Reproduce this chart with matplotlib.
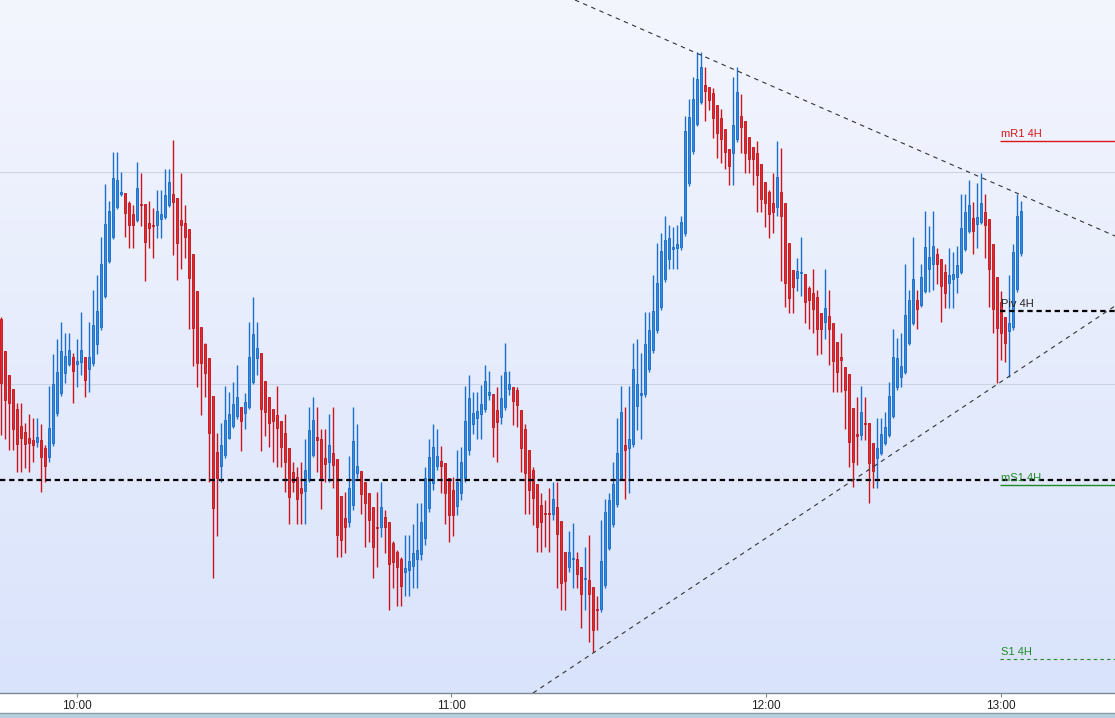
import numpy as np
import matplotlib.pyplot as plt
from matplotlib.colors import LinearSegmentedColormap
from matplotlib.lines import Line2D
from matplotlib.patches import Rectangle

plt.rcParams['font.family'] = ['Liberation Sans', 'DejaVu Sans']

# prices are kept as points below a reference quote (1 point = 0.00001)
REF = 1.10000
PT = 0.00001

opens_pts = [319, 351, 375, 389, 409, 426, 432, 438, 440, 442, 440, 448, 457, 443, 413, 393, 373, 364, 357, 364,
             362, 357, 369, 363, 344, 327, 296, 261, 237, 207, 194, 193, 203, 214, 220, 204, 204, 223, 225, 225,
             219, 217, 205, 194, 198, 220, 223, 229, 254, 291, 327, 344, 358, 396, 452, 466, 455, 438, 426, 416,
             407, 413, 407, 382, 358, 353, 381, 397, 409, 415, 421, 433, 448, 472, 477, 488, 491, 480, 455, 437,
             439, 458, 462, 453, 459, 496, 518, 522, 505, 473, 471, 482, 493, 507, 527, 527, 517, 522, 543, 552,
             559, 572, 570, 566, 559, 554, 538, 508, 483, 466, 461, 463, 478, 490, 506, 493, 478, 450, 424, 418,
             414, 409, 395, 394, 410, 417, 407, 389, 387, 390, 410, 429, 450, 470, 484, 505, 513, 513, 514, 507,
             521, 552, 567, 559, 559, 567, 579, 580, 587, 609, 609, 585, 548, 524, 504, 478, 445, 448, 444, 406,
             395, 394, 369, 350, 330, 307, 279, 259, 249, 248, 247, 233, 183, 151, 124, 102, 85, 87, 93, 105,
             118, 129, 149, 153, 139, 116, 121, 137, 147, 153, 164, 182, 192, 203, 207, 192, 203, 243, 270, 278,
             273, 274, 288, 293, 297, 313, 322, 316, 323, 342, 357, 367, 374, 408, 434, 435, 423, 423, 443, 458,
             453, 443, 435, 416, 387, 377, 372, 343, 323, 300, 305, 291, 269, 264, 254, 259, 272, 283, 279, 277,
             272, 249, 231, 218, 224, 222, 212, 219, 244, 277, 302, 317, 331, 327, 289, 253]
highs_pts = [317, 351, 375, 389, 403, 403, 423, 414, 418, 418, 424, 445, 386, 354, 339, 322, 333, 333, 353, 339,
             312, 357, 322, 290, 275, 237, 184, 201, 152, 152, 172, 193, 201, 205, 162, 173, 204, 201, 208, 190,
             190, 169, 169, 140, 198, 173, 205, 229, 254, 291, 327, 343, 358, 396, 433, 423, 386, 392, 382, 365,
             407, 393, 322, 297, 322, 353, 381, 397, 409, 386, 421, 414, 448, 462, 467, 462, 439, 407, 397, 407,
             429, 429, 414, 407, 459, 496, 492, 456, 407, 424, 471, 482, 493, 507, 492, 482, 510, 522, 541, 550,
             557, 535, 535, 524, 503, 503, 467, 439, 424, 429, 446, 463, 478, 477, 450, 447, 386, 375, 392, 392,
             385, 365, 371, 394, 387, 375, 343, 371, 387, 387, 410, 424, 450, 467, 484, 493, 500, 488, 482, 482,
             521, 552, 531, 523, 552, 567, 547, 535, 587, 596, 520, 499, 493, 462, 418, 386, 407, 386, 343, 339,
             353, 312, 312, 275, 243, 233, 216, 225, 227, 225, 216, 116, 99, 77, 52, 52, 67, 87, 88, 105,
             109, 129, 149, 77, 67, 94, 121, 137, 147, 141, 164, 182, 190, 173, 141, 148, 203, 243, 270, 258,
             237, 274, 286, 269, 290, 313, 269, 290, 323, 342, 333, 367, 374, 408, 397, 386, 397, 423, 443, 418,
             418, 412, 382, 329, 338, 333, 264, 290, 237, 290, 264, 211, 226, 211, 248, 259, 264, 248, 252, 246,
             194, 194, 180, 202, 183, 173, 194, 219, 244, 277, 291, 317, 275, 244, 194, 201]
lows_pts = [435, 439, 450, 450, 472, 472, 468, 472, 462, 447, 492, 482, 462, 446, 416, 396, 383, 366, 403, 387,
            375, 397, 392, 366, 354, 330, 298, 263, 239, 209, 196, 237, 248, 248, 222, 226, 281, 248, 258, 238,
            238, 219, 207, 255, 280, 269, 258, 329, 366, 387, 415, 397, 482, 578, 536, 482, 458, 439, 428, 419,
            451, 429, 409, 384, 375, 451, 436, 447, 462, 467, 467, 492, 524, 492, 524, 524, 524, 482, 457, 472,
            509, 482, 482, 488, 557, 557, 553, 527, 510, 478, 514, 547, 542, 578, 567, 537, 553, 610, 588, 606,
            606, 596, 596, 588, 588, 560, 545, 512, 490, 470, 493, 524, 542, 536, 515, 500, 482, 455, 434, 439,
            439, 412, 400, 457, 462, 424, 410, 395, 425, 427, 472, 514, 514, 525, 552, 552, 547, 552, 520, 588,
            610, 610, 572, 588, 588, 628, 610, 642, 652, 630, 612, 588, 550, 527, 507, 480, 499, 493, 447, 430,
            439, 397, 372, 353, 333, 310, 282, 269, 269, 269, 250, 236, 186, 154, 126, 104, 121, 110, 138, 158,
            163, 169, 185, 185, 142, 153, 173, 173, 185, 212, 212, 227, 238, 233, 216, 281, 307, 313, 313, 291,
            296, 323, 329, 333, 355, 354, 339, 365, 392, 392, 392, 429, 467, 487, 465, 440, 440, 503, 488, 488,
            455, 445, 437, 418, 390, 387, 374, 345, 325, 329, 307, 293, 292, 290, 284, 322, 308, 308, 308, 293,
            274, 251, 233, 254, 248, 224, 258, 307, 333, 383, 360, 362, 377, 330, 292, 256]
closes_pts = [383, 400, 403, 429, 444, 438, 444, 443, 445, 437, 457, 466, 428, 384, 372, 351, 356, 350, 371, 361,
              350, 380, 357, 325, 311, 264, 224, 211, 178, 180, 192, 213, 225, 225, 188, 205, 242, 228, 226, 211,
              214, 195, 182, 202, 243, 225, 237, 278, 328, 363, 363, 373, 433, 508, 478, 445, 420, 414, 404, 397,
              421, 402, 357, 334, 348, 409, 412, 423, 421, 428, 447, 462, 497, 482, 499, 493, 470, 430, 420, 440,
              478, 464, 445, 465, 535, 540, 527, 488, 441, 466, 494, 503, 520, 547, 528, 507, 527, 564, 562, 567,
              586, 568, 561, 553, 550, 522, 478, 457, 447, 456, 466, 493, 515, 515, 482, 462, 421, 398, 413, 411,
              404, 381, 392, 427, 422, 398, 372, 384, 401, 405, 448, 473, 490, 498, 527, 522, 514, 514, 499, 534,
              583, 581, 552, 558, 574, 594, 578, 594, 630, 610, 561, 512, 500, 484, 453, 412, 450, 439, 369, 384,
              393, 344, 330, 311, 283, 251, 240, 238, 247, 244, 222, 131, 117, 99, 79, 67, 91, 100, 118, 133,
              139, 152, 166, 125, 92, 127, 153, 159, 159, 175, 199, 203, 214, 212, 177, 216, 283, 298, 287, 271,
              272, 302, 300, 309, 329, 329, 308, 329, 361, 372, 360, 390, 442, 462, 436, 412, 424, 463, 471, 448,
              434, 427, 396, 357, 358, 366, 315, 300, 279, 309, 277, 247, 257, 246, 264, 286, 293, 275, 274, 265,
              228, 212, 205, 231, 217, 203, 225, 269, 309, 328, 333, 343, 323, 252, 216, 211]

# time axis labels sit on the first bar of each hour
hour_bars = [19, 112.5, 191.25, 250]
hour_labels = ['10:00', '11:00', '12:00', '13:00']

# 4H pivot levels, drawn from the 13:00 bar onwards
levels = {'mR1 4H': 141, 'Piv 4H': 311, 'mS1 4H': 485, 'S1 4H': 659}
level_start = 249.75
big_level = 480          # the dashed level running across the whole chart
grid_levels = [171.5, 384]

# hand-drawn trendlines (bar, points)
upper_tl = ([143.5, 278.5], [0, 236])
lower_tl = ([133, 278.5], [693, 306])


def to_price(v):
    return REF - np.asarray(v, dtype=float) * PT


o = to_price(opens_pts)
h = to_price(highs_pts)
l = to_price(lows_pts)
c = to_price(closes_pts)
idx = np.arange(len(o))
up = c >= o

x0, x1 = -0.25, 278.5
y0, y1 = to_price(693), to_price(0)

fig = plt.figure(figsize=(11.15, 7.18), dpi=100)
fig.patch.set_facecolor('white')
ax = fig.add_axes([0, 25 / 718, 1, 693 / 718])

bg = LinearSegmentedColormap.from_list('bg', ['#f4f6fe', '#d9e3fb'])
grad = np.linspace(0, 1, 256).reshape(-1, 1)
ax.imshow(grad, cmap=bg, extent=[x0, x1, y0, y1], aspect='auto', zorder=0, origin='upper')

for g in grid_levels:
    ax.axhline(to_price(g), color='#ccd2e2', lw=0.8, zorder=1)

blue, blue_edge, blue_wick = '#2f8de2', '#1766c4', '#1a70d0'
red, red_edge, red_wick = '#e82a2f', '#bf1219', '#cc141c'

ax.vlines(idx[up], l[up], h[up], colors=blue_wick, lw=1.0, zorder=2)
ax.vlines(idx[~up], l[~up], h[~up], colors=red_wick, lw=1.0, zorder=2)

body_lo = np.minimum(o, c)
body_h = np.maximum(np.abs(c - o), PT * 1.2)
ax.bar(idx[up], body_h[up], bottom=body_lo[up], width=0.62, color=blue,
       edgecolor=blue_edge, linewidth=0.6, zorder=3)
ax.bar(idx[~up], body_h[~up], bottom=body_lo[~up], width=0.62, color=red,
       edgecolor=red_edge, linewidth=0.6, zorder=3)

ax.axhline(to_price(big_level), color='black', lw=1.6, ls=(0, (2.4, 1.7)), zorder=4)

ax.plot(upper_tl[0], to_price(upper_tl[1]), color='#333333', lw=0.8, ls=(0, (4, 4)), zorder=4)
ax.plot(lower_tl[0], to_price(lower_tl[1]), color='#333333', lw=0.8, ls=(0, (4, 4)), zorder=4)

lv_style = {
    'mR1 4H': dict(color='#d8161c', ls='-', lw=1.0, tc='#d8161c'),
    'Piv 4H': dict(color='black', ls=(0, (2.4, 1.7)), lw=1.6, tc='#222222'),
    'mS1 4H': dict(color='#1f8a24', ls='-', lw=1.0, tc='#1f8a24'),
    'S1 4H': dict(color='#1f8a24', ls=(0, (3, 3)), lw=0.8, tc='#1f8a24'),
}
for name, lv in levels.items():
    st = lv_style[name]
    ax.hlines(to_price(lv), level_start, x1, colors=st['color'], linestyles=st['ls'],
              lw=st['lw'], zorder=4)
    ax.text(level_start + 0.3, to_price(lv - 2), name, color=st['tc'], fontsize=8,
            va='bottom', ha='left', zorder=5)

ax.set_xlim(x0, x1)
ax.set_ylim(y0, y1)
ax.set_yticks([])
ax.set_xticks(hour_bars)
ax.set_xticklabels(hour_labels, fontsize=8.5, color='#222222')
ax.tick_params(axis='x', direction='out', length=3, width=0.8, color='#7d8b99', pad=2)
for s in ['top', 'left', 'right']:
    ax.spines[s].set_visible(False)
ax.spines['bottom'].set_color('#7d8b99')
ax.spines['bottom'].set_linewidth(1.0)

fig.add_artist(Rectangle((0, 0), 1, 5 / 718, transform=fig.transFigure,
                         facecolor='#b7cfdc', edgecolor='none'))
fig.add_artist(Line2D([0, 1], [5.5 / 718, 5.5 / 718], transform=fig.transFigure,
                      color='#8c9cab', lw=1.0))

fig.savefig('out.png', dpi=100)
